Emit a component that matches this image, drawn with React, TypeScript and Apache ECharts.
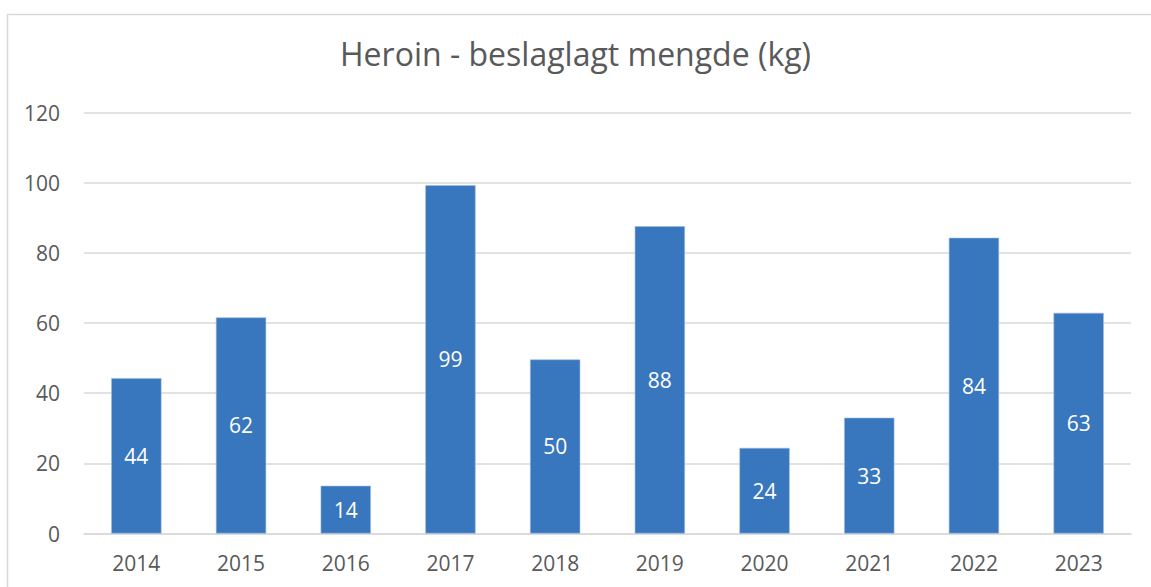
import React, { useEffect, useRef } from "react";
import * as echarts from "echarts";

const title = "Heroin - beslaglagt mengde (kg)";
const years = ["2014", "2015", "2016", "2017", "2018", "2019", "2020", "2021", "2022", "2023"];
const values = [44.3, 61.6, 13.6, 99.3, 49.6, 87.6, 24.4, 33.0, 84.3, 62.9];
const yTicks = { min: 0, max: 120, interval: 20 };

export default function App() {
  const ref = useRef<HTMLDivElement>(null);
  useEffect(() => {
    if (!ref.current) return;
    const chart = echarts.init(ref.current, undefined, { renderer: "svg" });
    const font = "'Open Sans', sans-serif";
    chart.setOption({
      animation: false,
      backgroundColor: "#ffffff",
      graphic: [
        {
          type: "rect",
          shape: { x: 7.5, y: 14.5, width: 1160, height: 600 },
          style: { fill: "none", stroke: "#d9d9d9", lineWidth: 1.5 },
          silent: true,
        },
      ],
      title: {
        text: title,
        left: "center",
        top: 32,
        textStyle: { fontFamily: font, fontSize: 32, fontWeight: "normal", color: "#595959" },
      },
      grid: { left: 84, right: 20, top: 112.5, bottom: 53.5, containLabel: false },
      xAxis: {
        type: "category",
        data: years,
        axisLine: { show: true, lineStyle: { color: "#d9d9d9", width: 1.5 } },
        axisTick: { show: false },
        axisLabel: { color: "#595959", fontFamily: font, fontSize: 21, margin: 19 },
      },
      yAxis: {
        type: "value",
        min: yTicks.min,
        max: yTicks.max,
        interval: yTicks.interval,
        axisLine: { show: false },
        axisTick: { show: false },
        splitLine: { lineStyle: { color: "#d9d9d9", width: 1.5 } },
        axisLabel: { color: "#595959", fontFamily: font, fontSize: 21, margin: 24 },
      },
      series: [
        {
          type: "bar",
          data: values,
          barWidth: "48%",
          itemStyle: { color: "#3876bd", borderColor: "#9dbbe0", borderWidth: 0.6 },
          label: {
            show: true,
            position: "inside",
            color: "#ffffff",
            fontFamily: font,
            fontSize: 21,
            formatter: (p: any) => String(Math.round(p.value)),
          },
        },
      ],
    });
    return () => chart.dispose();
  }, []);
  return (
    <div
      ref={ref}
      style={{ position: "fixed", left: 0, top: 0, width: 1151, height: 587 }}
    />
  );
}
